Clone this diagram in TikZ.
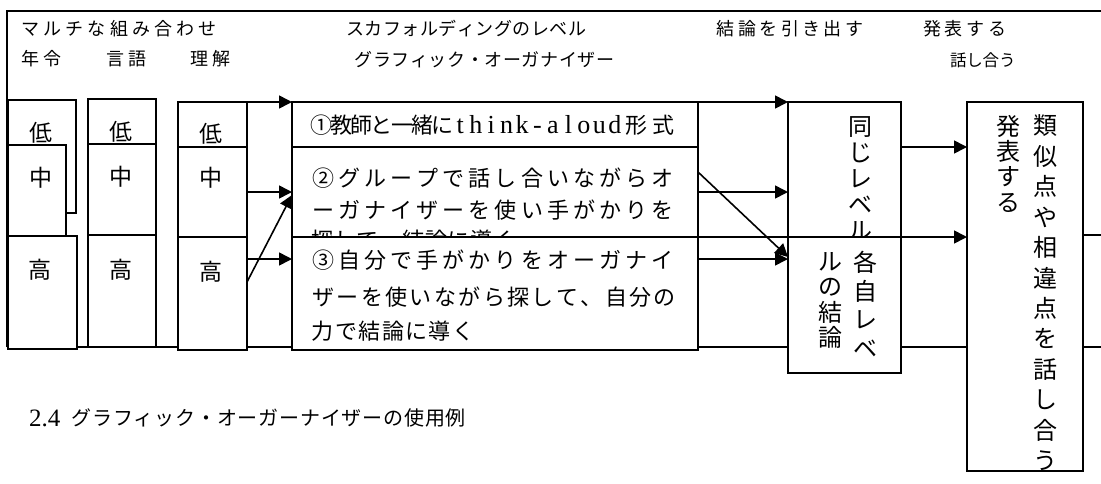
\documentclass[tikz,border=0pt]{standalone}
\usepackage{fontspec}
\setmainfont{Liberation Serif}
\newfontfamily\jp{Noto Sans CJK JP}
\usetikzlibrary{arrows.meta}
\makeatletter
\newcommand\spc[2]{\@tfor\chr:=#2\do{\makebox[#1]{\chr}}}
\makeatother
\newcommand\rbox[5]{\node[bx, anchor=north west, minimum width={(#4-#2)*1pt}, minimum height={(#5-#3)*1pt}] (#1) at (#2,#3) {};}
\begin{document}
\begin{tikzpicture}[x=1pt,y=-1pt,
  ln/.style={line width=1.6pt},
  bx/.style={draw, fill=white, line width=1.6pt, inner sep=0pt, outer sep=0pt},
  arr/.style={line width=1.6pt, -{Triangle[length=13pt,width=13pt]}},
  txt/.style={inner sep=0pt, anchor=west},
  hd/.style={txt, font=\jp\fontsize{18}{18}\selectfont},
  bt/.style={inner sep=0pt, font=\jp\fontsize{23}{23}\selectfont},
  st/.style={txt, font=\jp\fontsize{22}{22}\selectfont},
  vt/.style={inner sep=0pt, font=\jp\fontsize{24}{24}\selectfont},
]
\useasboundingbox (0,0) rectangle (1101,483);
% frame
\coordinate (fTL) at (7,11);
\coordinate (fTR) at (1101,11);
\coordinate (fBL) at (7,347);
\coordinate (fBR) at (1101,347);
\draw[ln] (fBL) -- (fTL) -- (fTR);
\draw[ln] (fBL) -- (fBR);
% headers
\node[hd] (h1) at (19,29) {\spc{22.2pt}{マルチな組み合わせ}};
\node[hd] (h2) at (346,29) {\spc{18.5pt}{スカフォルディングのレベル}};
\node[hd] (h3) at (715,29) {\spc{21.4pt}{結論を引き出す}};
\node[hd] (h4) at (921,29) {\spc{21.8pt}{発表する}};
\node[hd] (h5) at (19,59) {\spc{22.5pt}{年令}};
\node[hd] (h6) at (105,59) {\spc{21.5pt}{言語}};
\node[hd] (h7) at (188,59) {\spc{22.5pt}{理解}};
\node[hd] (h8) at (354,60) {\spc{18.6pt}{グラフィック・オーガナイザー}};
\node[hd, font=\jp\fontsize{16.5}{16.5}\selectfont] (h9) at (950,60) {\spc{16.3pt}{話し合う}};
% column 1
\rbox{c1l}{8}{100}{76}{213}
\node[bt] (t1l) at (41,133) {低};
\rbox{c1m}{8}{145}{66}{236}
\node[bt] (t1m) at (41,178) {中};
\rbox{c1h}{8}{236}{77}{349}
\node[bt] (t1h) at (40,270) {高};
% column 2
\rbox{c2l}{88}{99}{156}{144}
\node[bt] (t2l) at (121,132) {低};
\rbox{c2m}{88}{144}{156}{235}
\node[bt] (t2m) at (121,177) {中};
\rbox{c2h}{88}{235}{156}{347}
\node[bt] (t2h) at (121,270) {高};
% column 3
\rbox{c3l}{178}{102}{247}{147}
\node[bt] (t3l) at (211,134) {低};
\rbox{c3m}{178}{147}{247}{237}
\node[bt] (t3m) at (211,178) {中};
\rbox{c3h}{178}{237}{247}{350}
\node[bt] (t3h) at (211,272) {高};
% scaffolding boxes
\rbox{s1}{292}{102}{698}{147}
\node[st] (s1t) at (311,125) {\spc{20.2pt}{①教師と一緒に}{\rmfamily\fontsize{26}{26}\selectfont\spc{15.45pt}{think-aloud}}\spc{27.5pt}{形式}};
\rbox{s2}{292}{147}{698}{237}
\node[st] (s2a) at (310,178) {\spc{26.1pt}{②グループで話し合いながらオ}};
\node[st] (s2b) at (310,210) {\spc{26.1pt}{ーガナイザーを使い手がかりを}};
\node[st] (s2c) at (311,240) {\spc{22.7pt}{探して、結論に導く}};
\rbox{s3}{292}{237}{698}{350}
\node[st] (s3a) at (310,260) {\spc{26.1pt}{③自分で手がかりをオーガナイ}};
\node[st] (s3b) at (311,297) {\spc{24.4pt}{ザーを使いながら探して、自分の}};
\node[st] (s3c) at (311,331) {\spc{23.4pt}{力で結論に導く}};
% conclusion boxes
\rbox{same}{788}{102}{901}{320}
\foreach \ch [count=\k] in {同,じ,レ,ベ,ル}
  \node[vt] (dj\k) at (860,{127+26*(\k-1)}) {\ch};
\rbox{kaku}{788}{237}{901}{373}
\foreach \ch [count=\k] in {各,自,レ,ベ}
  \node[vt] (kr\k) at (865,{262+29*(\k-1)}) {\ch};
\foreach \ch [count=\k] in {ル,の,結,論}
  \node[vt] (kl\k) at (830,{262+25*(\k-1)}) {\ch};
% presentation box
\rbox{pres}{967}{102}{1083}{471}
\foreach \ch [count=\k] in {発,表,す,る}
  \node[vt] (pl\k) at (1008,{126+25.5*(\k-1)}) {\ch};
\foreach \ch [count=\k] in {類,似,点,や,相,違,点,を,話,し,合,う}
  \node[vt] (pr\k) at (1045,{126+30.4*(\k-1)}) {\ch};
\coordinate (rEnd) at (1101,235);
\draw[ln] (pres.east |- rEnd) -- (rEnd);
% arrows into scaffolding
\draw[arr] (c3l.north east) -- (s1.north west);
\draw[arr] (c3m.east |- 0,192) -- (s2.west |- 0,192);
\draw[arr] (c3h.east |- 0,259) -- (s3.west |- 0,259);
\draw[arr] (c3h.east |- 0,282) -- (s2.west |- 0,195);
% arrows into conclusion boxes
\draw[arr] (s1.north east) -- (same.north west);
\draw[arr] (s2.east |- 0,192) -- (same.west |- 0,192);
\draw[arr] (s2.east |- 0,172) -- (kaku.west |- 0,257);
\draw[arr] (s3.east |- 0,259) -- (kaku.west |- 0,259);
\draw[arr] (s2.south east) -- (pres.west |- s2.south east);
\draw[arr] (same.east |- 0,147) -- (pres.west |- 0,147);
% caption
\node[txt, font=\fontsize{25}{25}\selectfont] (cap1) at (29,418) {2.4};
\node[txt, font=\jp\fontsize{20}{20}\selectfont] (cap2) at (71,418) {\spc{20.8pt}{グラフィック・オーガーナイザーの使用例}};
\end{tikzpicture}
\end{document}
